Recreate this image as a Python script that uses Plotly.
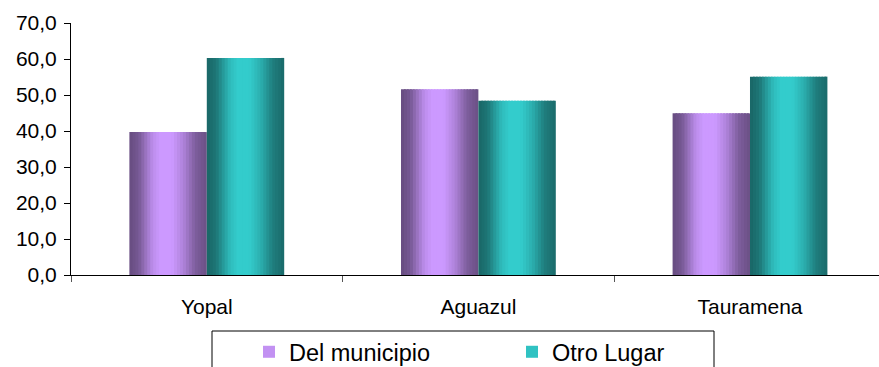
import plotly.graph_objects as go

# ---- data ----
categories = ["Yopal", "Aguazul", "Tauramena"]
del_municipio = [39.7, 51.6, 44.9]
otro_lugar = [60.3, 48.4, 55.1]
series_names = ["Del municipio", "Otro Lugar"]
ytick_vals = [0, 10, 20, 30, 40, 50, 60, 70]

# ---- style ----
base_colors = [(204, 153, 255), (51, 204, 204)]
shade_stops = [(0.0, 0.50), (0.12, 0.58), (0.30, 0.92), (0.40, 1.0),
               (0.55, 1.0), (0.70, 0.85), (0.85, 0.62), (1.0, 0.52)]
legend_shade = 0.95
bar_w = 0.285          # width of one series bar (category units)
n_strips = 26
FONT = "Liberation Sans, Arial, sans-serif"


def shade(t):
    for (t0, f0), (t1, f1) in zip(shade_stops[:-1], shade_stops[1:]):
        if t0 <= t <= t1:
            return f0 + (f1 - f0) * (t - t0) / (t1 - t0)
    return shade_stops[-1][1]


def rgb(base, f):
    return "rgb(%d,%d,%d)" % tuple(round(c * f) for c in base)


fig = go.Figure()
series_vals = [del_municipio, otro_lugar]
for s, (name, vals, base) in enumerate(zip(series_names, series_vals, base_colors)):
    left = -bar_w if s == 0 else 0.0
    step = bar_w / n_strips
    for i in range(n_strips):
        t = (i + 0.5) / n_strips
        w = step * 1.6 if i < n_strips - 1 else step
        fig.add_trace(go.Bar(
            x=categories, y=vals,
            offset=left + i * step, width=w,
            marker=dict(color=rgb(base, shade(t)), line=dict(width=0)),
            showlegend=False, hoverinfo="skip", legendgroup=name,
        ))
    # legend entry
    fig.add_trace(go.Bar(
        x=categories, y=[None] * len(categories), name=name,
        marker=dict(color=rgb(base, legend_shade), line=dict(width=0)),
        showlegend=True, legendgroup=name, hoverinfo="skip",
    ))

ml, mt, mb = 71, 23, 92
W, H = 879, 367
pw, ph = W - ml, H - mt - mb


def px_x(p):
    return (p - ml) / pw


def px_y(p):
    return (H - mb - p) / ph


fig.add_shape(type="rect", xref="paper", yref="paper",
              x0=px_x(212), x1=px_x(714), y0=px_y(331), y1=px_y(400),
              line=dict(color="#000000", width=1), fillcolor="rgba(0,0,0,0)",
              layer="above")

fig.update_layout(
    width=W, height=H,
    margin=dict(l=ml, r=0, t=mt, b=mb, pad=0, autoexpand=False),
    paper_bgcolor="white", plot_bgcolor="white",
    barmode="overlay",
    separators=",.",
    font=dict(family=FONT, size=21, color="#000000"),
    showlegend=True,
    legend=dict(orientation="h", xref="container", yref="container",
                x=249 / W, xanchor="left",
                y=1 - 330 / H, yanchor="top",
                font=dict(family=FONT, size=23.5, color="#000000"),
                bgcolor="rgba(0,0,0,0)", borderwidth=0,
                entrywidth=218, entrywidthmode="pixels",
                itemclick=False, itemdoubleclick=False),
    xaxis=dict(type="category", range=[-0.5, 2.475], showline=True,
               linecolor="#000000", linewidth=1, ticks="outside",
               tickson="boundaries", ticklen=6, tickcolor="#555555",
               showgrid=False, zeroline=False, ticklabelstandoff=13,
               automargin=False,
               tickfont=dict(family=FONT, size=21, color="#000000")),
    yaxis=dict(range=[0, 70], tickvals=ytick_vals, tickformat=".1f",
               showline=True, linecolor="#000000", linewidth=1,
               ticks="outside", ticklen=6, tickcolor="#000000",
               showgrid=False, zeroline=False, ticklabelstandoff=3,
               automargin=False,
               tickfont=dict(family=FONT, size=21, color="#000000")),
)

fig.write_html(
    "out.html",
    config={"displayModeBar": False, "staticPlot": False},
    post_script="document.body.style.margin='0';document.body.style.overflow='hidden';",
)
